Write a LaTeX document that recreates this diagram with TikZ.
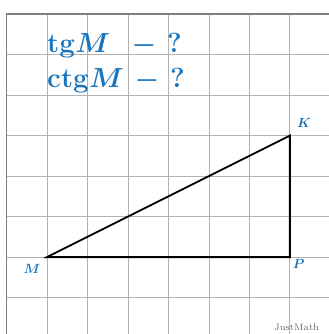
\documentclass[tikz,border=0pt]{standalone}
\usepackage{amsmath,bm}
\definecolor{jmblue}{HTML}{1A75BC}
\begin{document}
\begin{tikzpicture}[x=40.5*0.75pt,y=40.5*0.75pt,
  gridline/.style={draw=black!30,line width=0.6pt},
  frameline/.style={draw=black!50,line width=1.2pt},
  tri/.style={draw=black,line width=1.4pt},
  ptlabel/.style={text=jmblue,font=\normalsize,inner sep=0pt},
  title/.style={text=jmblue,font=\huge,anchor=base west,inner sep=0pt}]
\useasboundingbox (-1.16,-1.9) rectangle (6.96,6.35);
\foreach \x in {0,...,6} \draw[gridline] (\x,-1.9) -- (\x,6);
\foreach \y in {-1,...,5} \draw[gridline] (-1,\y) -- (6.96,\y);
\draw[frameline] (-1,-1.9) -- (-1,6) -- (6.96,6);
\coordinate (M) at (0,0);
\coordinate (P) at (6,0);
\coordinate (K) at (6,3);
\draw[tri] (M) -- (P) -- (K) -- cycle;
\node[ptlabel] (lM) at (-0.37,-0.29) {$\bm{M}$};
\node[ptlabel] (lP) at (6.22,-0.18) {$\bm{P}$};
\node[ptlabel] (lK) at (6.35,3.32) {$\bm{K}$};
\node[title] (t1) at (0,5.06) {$\mathbf{tg}\bm{M}\;\;\bm{-}\,\text{\bfseries ?}$};
\node[title] (t2) at (0,4.2) {$\mathbf{ctg}\bm{M}\bm{\,-\,}\text{\bfseries ?}$};
\node[text=black!60,font=\scriptsize,inner sep=0pt] (jm) at (6.17,-1.74) {JustMath};
\end{tikzpicture}
\end{document}
